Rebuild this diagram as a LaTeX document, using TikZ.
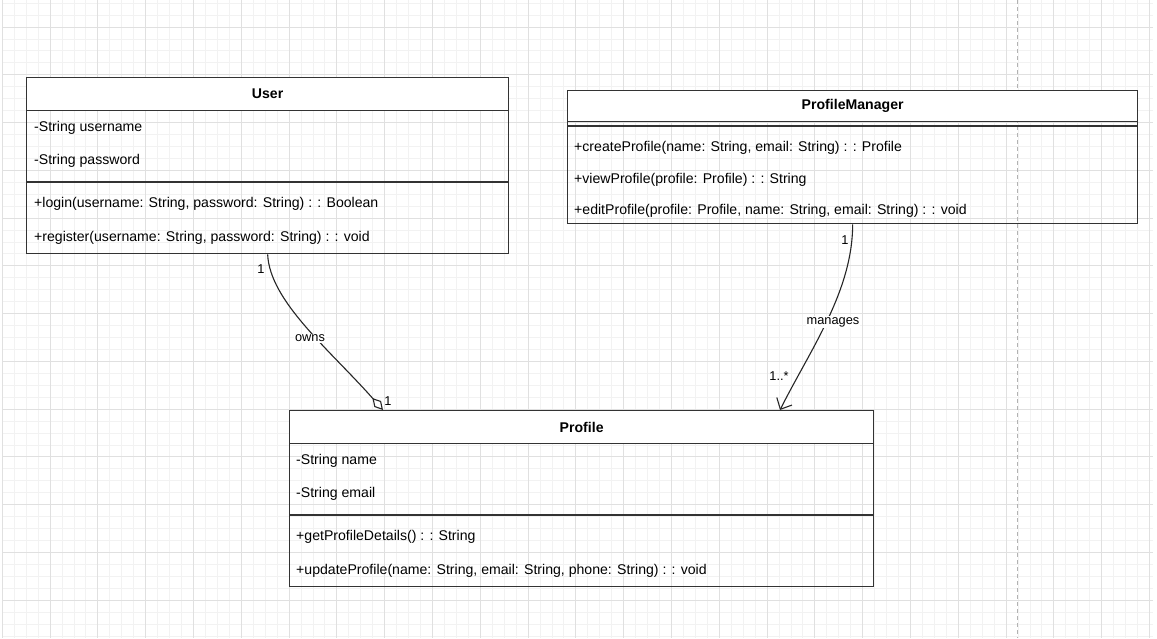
\documentclass[tikz,border=0pt]{standalone}
\usepackage{fontspec}
\setmainfont{Liberation Sans}
\usetikzlibrary{arrows.meta,calc}

\begin{document}
\begin{tikzpicture}[x=1pt,y=-1pt,
	minor/.style={draw=black!5,line width=0.8pt},
	major/.style={draw=black!12,line width=0.9pt},
	box/.style={draw=black!80,line width=1.3pt,inner sep=0pt,anchor=north west},
	head/.style={box,fill=white,font=\fontsize{14.1}{16}\selectfont\bfseries},
	sep/.style={draw=black!80,line width=1.3pt},
	txt/.style={anchor=west,inner sep=0pt,font=\fontsize{14.1}{16}\selectfont},
	conn/.style={draw=black!85,line width=1.1pt},
	lbl/.style={inner sep=1pt,font=\fontsize{12.8}{15}\selectfont}]
	\useasboundingbox (0,0) rectangle (1157,638);
	\fill[white] (0,0) rectangle (1157,638);
	\begin{scope}
		\clip (2,0) rectangle (1153,638);
		\foreach \i in {0,...,96} \draw[minor] ({2.2+\i*11.95},0) -- ++(0,638);
		\foreach \j in {-2,...,51} \draw[minor] (2,{27+\j*11.94}) -- ++(1151,0);
		\foreach \i in {0,...,24} \draw[major] ({2.2+\i*47.8},0) -- ++(0,638);
		\foreach \j in {-1,...,13} \draw[major] (2,{27+\j*47.75}) -- ++(1151,0);
	\end{scope}
	\draw[black!30,line width=1pt,dash pattern=on 4pt off 3pt] (1017,0) -- (1017,638);

	\node (userhead) [head,minimum width=482pt,minimum height=33pt] at (26,77) {User};
	\node (user) [box,minimum width=482pt,minimum height=176pt] at (26,77) {};
	\draw[sep] (user.west |- 0,182) -- (user.east |- 0,182);
	\node[txt] (uname) at (34,128) {-String username};
	\node[txt] (upass) at (34,161) {-String password};
	\node[txt] (ulogin) at (34,204) {+login(username: String, password: String) : : Boolean};
	\node[txt] (ureg) at (34,238) {+register(username: String, password: String) : : void};

	\node (pmhead) [head,minimum width=570pt,minimum height=31pt] at (567,90) {ProfileManager};
	\node (pm) [box,minimum width=570pt,minimum height=133pt] at (567,90) {};
	\draw[sep] (pm.west |- 0,126) -- (pm.east |- 0,126);
	\node[txt] (pmcreate) at (574,148) {+createProfile(name: String, email: String) : : Profile};
	\node[txt] (pmview) at (574,180) {+viewProfile(profile: Profile) : : String};
	\node[txt] (pmedit) at (574,211) {+editProfile(profile: Profile, name: String, email: String) : : void};

	\node (profhead) [head,minimum width=584pt,minimum height=33pt] at (289,410) {Profile};
	\node (profile) [box,minimum width=584pt,minimum height=176pt] at (289,410) {};
	\draw[sep] (profile.west |- 0,515) -- (profile.east |- 0,515);
	\node[txt] (pname) at (296,461) {-String name};
	\node[txt] (pemail) at (296,494) {-String email};
	\node[txt] (pget) at (296,537) {+getProfileDetails() : : String};
	\node[txt] (pupd) at (296,571) {+updateProfile(name: String, email: String, phone: String) : : void};

	\coordinate (ownend) at ([xshift=94pt]profile.north west);
	\coordinate (mngend) at ([xshift=491pt]profile.north west);
	\draw[conn,-{Diamond[open,fill=white,length=16pt,width=9pt]}] (user.south)
		.. controls ($(user.south)+(2,47)$) and ($(ownend)+(-53,-60)$) .. (ownend);
	\draw[conn,-{Straight Barb[length=9pt,width=17pt]}] (pm.south)
		.. controls ($(pm.south)+(0,67)$) and ($(mngend)+(30,-60)$) .. (mngend);
	\node[lbl,fill=white] (owns) at (310,338) {owns};
	\node[lbl] (ownsa) at (261,269) {1};
	\node[lbl] (ownsb) at (388,401) {1};
	\node[lbl,fill=white] (manages) at (833,322) {manages};
	\node[lbl] (mnga) at (845,240) {1};
	\node[lbl] (mngb) at (779,376) {1..*};
\end{tikzpicture}
\end{document}
